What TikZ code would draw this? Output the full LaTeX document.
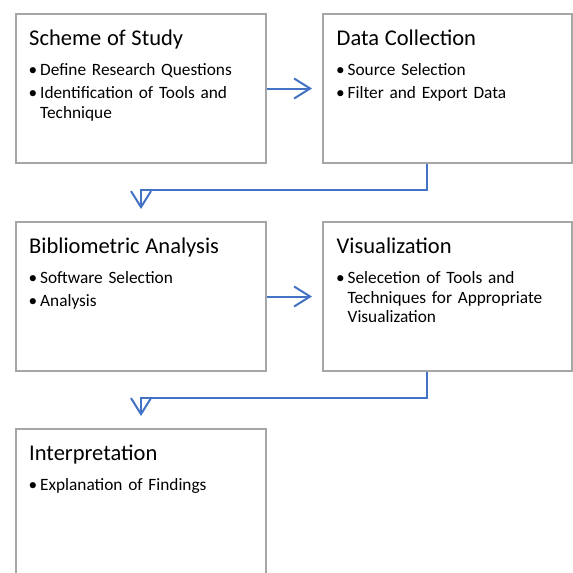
\documentclass[tikz,border=0pt]{standalone}
\usepackage{fontspec}
\setmainfont{Carlito}
\usetikzlibrary{arrows.meta,calc,backgrounds}
\definecolor{boxgray}{HTML}{A6A6A6}
\definecolor{arrowblue}{HTML}{4472C4}
\newcommand\stagetitle[1]{{\fontsize{22.5}{26}\selectfont #1\par}}
\newcommand\bulletitem[1]{\par\hangindent=11pt\hangafter=1\noindent\makebox[11pt][l]{\hspace{-0.5pt}\textbullet}#1\par}
\newcommand\brk{\hfil\break}
\begin{document}
\begin{tikzpicture}[x=1pt,y=-1pt,
  stagebox/.style={draw=boxgray,line width=2.5pt,fill=white,minimum width=250pt,minimum height=149pt,anchor=north west,inner sep=0pt,outer sep=0pt},
  stagetext/.style={anchor=north west,inner sep=0pt,text width=235pt,font=\fontsize{17.3}{19.5}\selectfont},
  flow/.style={draw=arrowblue,line width=2pt,-{Straight Barb[length=16pt,width=20pt,line width=2pt]}},
]
\useasboundingbox (0,0) rectangle (573,573);
\clip (0,0) rectangle (573,573);

\node[stagebox] (b1) at (16,14) {};
\node[stagebox,minimum width=249pt] (b2) at (323,14) {};
\node[stagebox] (b3) at (16,222) {};
\node[stagebox,minimum width=249pt] (b4) at (323,222) {};
\node[stagebox] (b5) at (16,429) {};

\newcommand\stagecontent[2]{\raggedright\setlength{\parskip}{3.5pt}\stagetitle{#1}\vspace{7pt}#2}

\node[stagetext] (t1) at ($(b1.north west)+(13,16)$)
  {\stagecontent{Scheme of Study}{\bulletitem{Define Research Questions}\bulletitem{Identification of Tools and\brk Technique}}};
\node[stagetext] (t2) at ($(b2.north west)+(13.5,16)$)
  {\stagecontent{Data Collection}{\bulletitem{Source Selection}\bulletitem{Filter and Export Data}}};
\node[stagetext] (t3) at ($(b3.north west)+(13,16)$)
  {\stagecontent{Bibliometric Analysis}{\bulletitem{Software Selection}\bulletitem{Analysis}}};
\node[stagetext] (t4) at ($(b4.north west)+(13.5,16)$)
  {\stagecontent{Visualization}{\bulletitem{Selecetion of Tools and\brk Techniques for Appropriate\brk Visualization}}};
\node[stagetext] (t5) at ($(b5.north west)+(13,16)$)
  {\stagecontent{Interpretation}{\bulletitem{Explanation of Findings}}};

\begin{pgfonlayer}{background}
\draw[flow] (b1.east) -- ($(b2.west)+(-11,0)$);
\draw[flow] (b3.east) -- ($(b4.west)+(-11,0)$);
\draw[flow] ($(b2.south west)+(104,0)$) -- ++(0,27) -| ($(b3.north)+(0,-13)$);
\draw[flow] ($(b4.south west)+(104,0)$) -- ++(0,26.5) -| ($(b5.north)+(0,-13)$);
\end{pgfonlayer}
\end{tikzpicture}
\end{document}
